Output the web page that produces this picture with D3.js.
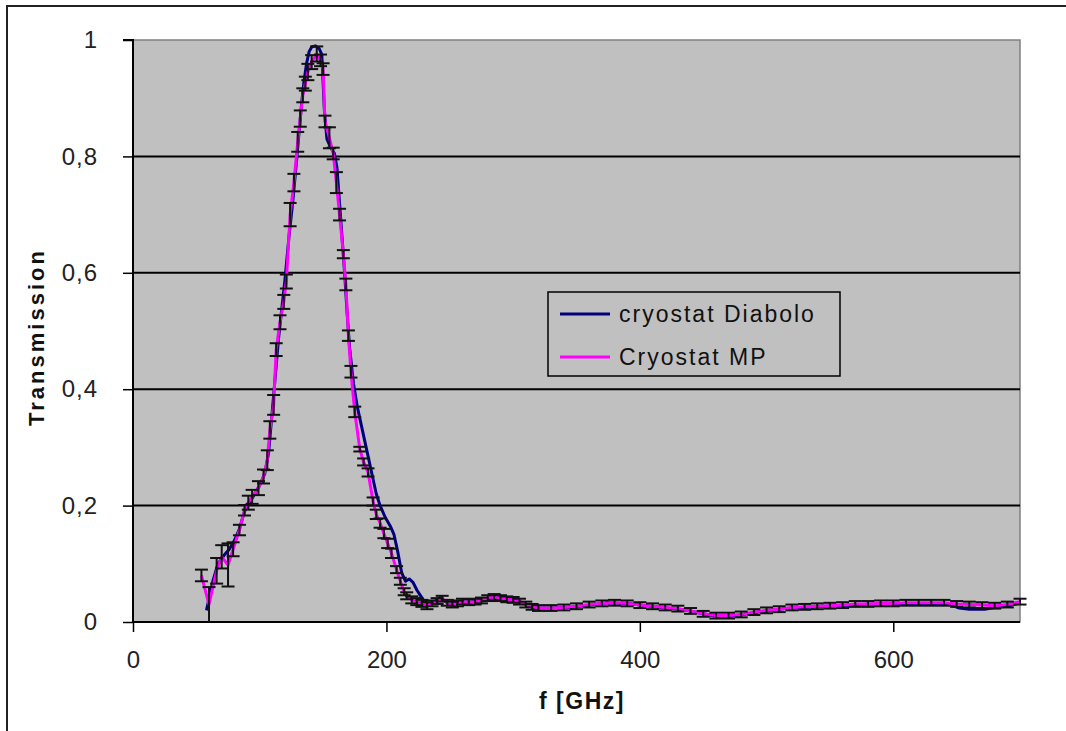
<!DOCTYPE html>
<html>
<head>
<meta charset="utf-8">
<script src="https://cdn.jsdelivr.net/npm/d3@7"></script>
<style>
  html, body { margin: 0; padding: 0; background: #ffffff; }
  svg { display: block; }
  text { font-family: "Liberation Sans", Arial, sans-serif; }
</style>
</head>
<body>
<svg id="chart" width="1066" height="731"></svg>
<script>
// ---------- data ----------
const seriesNames = ["cryostat Diabolo", "Cryostat MP"];
const xTicks = [0, 200, 400, 600];
const yTicks = [0, 0.2, 0.4, 0.6, 0.8, 1];
const yTickLabels = ["0", "0,2", "0,4", "0,6", "0,8", "1"];

// Cryostat MP (with error bars)
const mpFreq = [
  54, 60, 66, 70, 75, 79, 84, 88, 91, 94,
  99, 103, 106, 108, 111, 113, 116, 119, 121, 124,
  127, 130, 132, 134, 136, 138, 141, 145, 148, 150,
  151.5, 155, 158, 160.5, 163, 166, 168, 170, 172, 175,
  179, 182, 185.5, 189.5, 192, 195, 198, 201, 204, 208,
  211, 214, 216, 220, 224, 228, 232, 236, 240, 244,
  248, 252, 256, 260, 265, 270, 275, 280, 285, 290,
  295, 300, 305, 310, 315, 320, 330, 340, 350, 360,
  370, 380, 390, 400, 410, 420, 430, 440, 450, 460,
  470, 480, 490, 500, 510, 520, 530, 540, 550, 560,
  570, 580, 590, 600, 610, 620, 630, 640, 650, 660,
  670, 680, 690, 700
];
const mpTrans = [
  0.080, 0.030, 0.088, 0.112, 0.098, 0.125, 0.158, 0.192, 0.205, 0.215,
  0.230, 0.250, 0.278, 0.330, 0.373, 0.468, 0.515, 0.550, 0.585, 0.700,
  0.755, 0.825, 0.865, 0.905, 0.925, 0.945, 0.962, 0.976, 0.965, 0.950,
  0.860, 0.832, 0.805, 0.755, 0.700, 0.632, 0.580, 0.492, 0.430, 0.361,
  0.297, 0.275, 0.257, 0.207, 0.185, 0.170, 0.152, 0.135, 0.118, 0.090,
  0.070, 0.052, 0.045, 0.038, 0.035, 0.032, 0.028, 0.032, 0.036, 0.040,
  0.033, 0.030, 0.032, 0.035, 0.034, 0.035, 0.037, 0.041, 0.043, 0.041,
  0.039, 0.038, 0.035, 0.030, 0.026, 0.024, 0.024, 0.025, 0.027, 0.030,
  0.032, 0.033, 0.032, 0.029, 0.027, 0.025, 0.023, 0.019, 0.014, 0.011,
  0.011, 0.013, 0.017, 0.020, 0.022, 0.025, 0.026, 0.027, 0.028, 0.029,
  0.031, 0.031, 0.032, 0.032, 0.033, 0.033, 0.033, 0.033, 0.031, 0.030,
  0.029, 0.028, 0.030, 0.035
];
const mpErr = [
  0.010, 0.030, 0.022, 0.020, 0.037, 0.012, 0.009, 0.009, 0.012, 0.012,
  0.012, 0.012, 0.017, 0.015, 0.017, 0.011, 0.012, 0.012, 0.012, 0.020,
  0.015, 0.017, 0.014, 0.012, 0.012, 0.014, 0.012, 0.013, 0.010, 0.010,
  0.010, 0.018, 0.010, 0.018, 0.010, 0.007, 0.010, 0.009, 0.010, 0.009,
  0.004, 0.006, 0.007, 0.007, 0.008, 0.008, 0.008, 0.008, 0.008, 0.006,
  0.006, 0.006, 0.006, 0.006, 0.006, 0.006, 0.006, 0.005, 0.005, 0.005,
  0.005, 0.005, 0.005, 0.005, 0.005, 0.005, 0.005, 0.005, 0.005, 0.005,
  0.005, 0.005, 0.005, 0.005, 0.005, 0.005, 0.005, 0.005, 0.005, 0.005,
  0.005, 0.005, 0.005, 0.005, 0.005, 0.005, 0.005, 0.005, 0.005, 0.005,
  0.005, 0.005, 0.005, 0.005, 0.005, 0.005, 0.005, 0.005, 0.005, 0.005,
  0.005, 0.005, 0.005, 0.005, 0.005, 0.005, 0.005, 0.005, 0.005, 0.005,
  0.005, 0.005, 0.005, 0.005
];

// cryostat Diabolo
const dbFreq = [
  58, 63, 67, 72, 76, 80, 84, 88, 92, 96,
  100, 104, 107, 109, 111, 113, 115, 117, 120, 123,
  126, 129, 131, 133, 135, 137, 139, 141, 144, 147,
  149, 151, 153, 156, 159, 161, 163, 165, 167, 169,
  171, 174, 177, 180, 183, 186, 189, 192, 195, 199,
  203, 206, 209, 212, 215, 218, 221, 224, 227, 230,
  234, 238, 242, 246, 250, 254, 258, 262, 268, 275,
  282, 287, 293, 300, 306, 312, 318, 330, 345, 360,
  375, 390, 405, 420, 435, 448, 460, 472, 485, 500,
  515, 530, 545, 560, 575, 590, 605, 620, 635, 645,
  652, 660, 672, 680, 690, 700
];
const dbTrans = [
  0.020, 0.070, 0.100, 0.115, 0.125, 0.140, 0.160, 0.190, 0.205, 0.220,
  0.235, 0.255, 0.290, 0.340, 0.390, 0.440, 0.490, 0.530, 0.590, 0.660,
  0.720, 0.790, 0.840, 0.890, 0.930, 0.960, 0.980, 0.988, 0.990, 0.985,
  0.975, 0.880, 0.830, 0.815, 0.805, 0.780, 0.720, 0.660, 0.600, 0.530,
  0.470, 0.410, 0.370, 0.340, 0.310, 0.280, 0.250, 0.220, 0.200, 0.180,
  0.165, 0.150, 0.120, 0.085, 0.070, 0.074, 0.068, 0.055, 0.045, 0.035,
  0.030, 0.035, 0.042, 0.036, 0.030, 0.033, 0.036, 0.034, 0.035, 0.037,
  0.042, 0.043, 0.040, 0.038, 0.034, 0.028, 0.024, 0.024, 0.025, 0.029,
  0.033, 0.032, 0.028, 0.024, 0.021, 0.015, 0.010, 0.010, 0.014, 0.019,
  0.023, 0.025, 0.027, 0.028, 0.030, 0.031, 0.030, 0.031, 0.031, 0.030,
  0.024, 0.022, 0.022, 0.025, 0.027, 0.033
];

// ---------- chart ----------
const svg = d3.select("#chart");
const W = 1066, H = 731;
const plot = { left: 133, right: 1020, top: 40, bottom: 622 };

const x = d3.scaleLinear().domain([0, 700]).range([plot.left, plot.right]);
const y = d3.scaleLinear().domain([0, 1]).range([plot.bottom, plot.top]);

// outer frame (chart area border)
svg.append("rect").attr("x", 0).attr("y", 0).attr("width", W).attr("height", H).attr("fill", "#ffffff");
svg.append("rect")
  .attr("x", 7).attr("y", 6).attr("width", W + 20).attr("height", H + 20)
  .attr("fill", "none").attr("stroke", "#222").attr("stroke-width", 2);

// plot background
svg.append("rect")
  .attr("x", plot.left).attr("y", plot.top)
  .attr("width", plot.right - plot.left).attr("height", plot.bottom - plot.top)
  .attr("fill", "#c0c0c0").attr("stroke", "#808080").attr("stroke-width", 1.5);

// gridlines
svg.append("g").selectAll("line")
  .data(yTicks.filter(v => v > 0 && v < 1))
  .join("line")
  .attr("x1", plot.left).attr("x2", plot.right)
  .attr("y1", d => y(d)).attr("y2", d => y(d))
  .attr("stroke", "#000").attr("stroke-width", 2);

// axes
const yAxis = d3.axisLeft(y)
  .tickValues(yTicks)
  .tickSize(10)
  .tickPadding(25)
  .tickFormat((d, i) => yTickLabels[i]);
const gy = svg.append("g").attr("transform", `translate(${plot.left},0)`).call(yAxis);
gy.select(".domain").attr("stroke", "#000").attr("stroke-width", 2).attr("d", `M-10,${plot.top}H0V${plot.bottom}`);
gy.selectAll(".tick line").attr("stroke", "#000").attr("stroke-width", 1.5);
gy.selectAll(".tick text")
  .attr("font-size", 24).attr("fill", "#222")
  .attr("font-family", "'Liberation Sans', Arial, sans-serif")
  .attr("letter-spacing", 1);

const xAxis = d3.axisBottom(x)
  .tickValues(xTicks)
  .tickSize(10)
  .tickPadding(19)
  .tickFormat(d3.format("d"));
const gx = svg.append("g").attr("transform", `translate(0,${plot.bottom})`).call(xAxis);
gx.select(".domain").attr("stroke", "#000").attr("stroke-width", 2)
  .attr("d", `M${plot.left},0H${plot.right}`);
gx.selectAll(".tick line").attr("stroke", "#000").attr("stroke-width", 1.5);
gx.selectAll(".tick text")
  .attr("font-size", 24).attr("fill", "#222")
  .attr("font-family", "'Liberation Sans', Arial, sans-serif");

// axis titles
svg.append("text")
  .attr("x", 582).attr("y", 709)
  .attr("text-anchor", "middle")
  .attr("font-size", 23).attr("font-weight", "bold").attr("fill", "#111")
  .attr("letter-spacing", 1.5)
  .text("f [GHz]");
svg.append("text")
  .attr("transform", "translate(44,337) rotate(-90)")
  .attr("text-anchor", "middle")
  .attr("font-size", 22).attr("font-weight", "bold").attr("fill", "#111")
  .attr("letter-spacing", 3)
  .text("Transmission");

// series
const dbData = dbFreq.map((f, i) => ({ f, t: dbTrans[i] }));
const mpData = mpFreq.map((f, i) => ({ f, t: mpTrans[i], e: mpErr[i] }));

const line = d3.line().x(d => x(d.f)).y(d => y(d.t));

svg.append("path").datum(dbData)
  .attr("d", line).attr("fill", "none")
  .attr("stroke", "#000080").attr("stroke-width", 3).attr("stroke-linejoin", "round");

svg.append("path").datum(mpData)
  .attr("d", line).attr("fill", "none")
  .attr("stroke", "#ff00ff").attr("stroke-width", 3).attr("stroke-linejoin", "round");

// error bars on MP
const cap = 6.5;
const eb = svg.append("g").attr("stroke", "#111").attr("stroke-width", 2);
eb.selectAll("line.v").data(mpData).join("line").attr("class", "v")
  .attr("x1", d => x(d.f)).attr("x2", d => x(d.f))
  .attr("y1", d => y(Math.max(0, d.t - d.e))).attr("y2", d => y(d.t + d.e));
eb.selectAll("line.top").data(mpData).join("line").attr("class", "top")
  .attr("x1", d => x(d.f) - cap).attr("x2", d => x(d.f) + cap)
  .attr("y1", d => y(d.t + d.e)).attr("y2", d => y(d.t + d.e));
eb.selectAll("line.bot").data(mpData.filter(d => d.t - d.e > 0)).join("line").attr("class", "bot")
  .attr("x1", d => x(d.f) - cap).attr("x2", d => x(d.f) + cap)
  .attr("y1", d => y(d.t - d.e)).attr("y2", d => y(d.t - d.e));

// legend
const lg = svg.append("g");
lg.append("rect")
  .attr("x", 548).attr("y", 292).attr("width", 292).attr("height", 84)
  .attr("fill", "#c0c0c0").attr("stroke", "#000").attr("stroke-width", 1.5);
const legendColors = ["#000080", "#ff00ff"];
const legendY = [314, 357];
seriesNames.forEach((name, i) => {
  lg.append("line")
    .attr("x1", 560).attr("x2", 610)
    .attr("y1", legendY[i]).attr("y2", legendY[i])
    .attr("stroke", legendColors[i]).attr("stroke-width", 3);
  lg.append("text")
    .attr("x", 619).attr("y", legendY[i] + 8)
    .attr("font-size", 23).attr("fill", "#111")
    .attr("letter-spacing", 2)
    .text(name);
});
</script>
</body>
</html>
